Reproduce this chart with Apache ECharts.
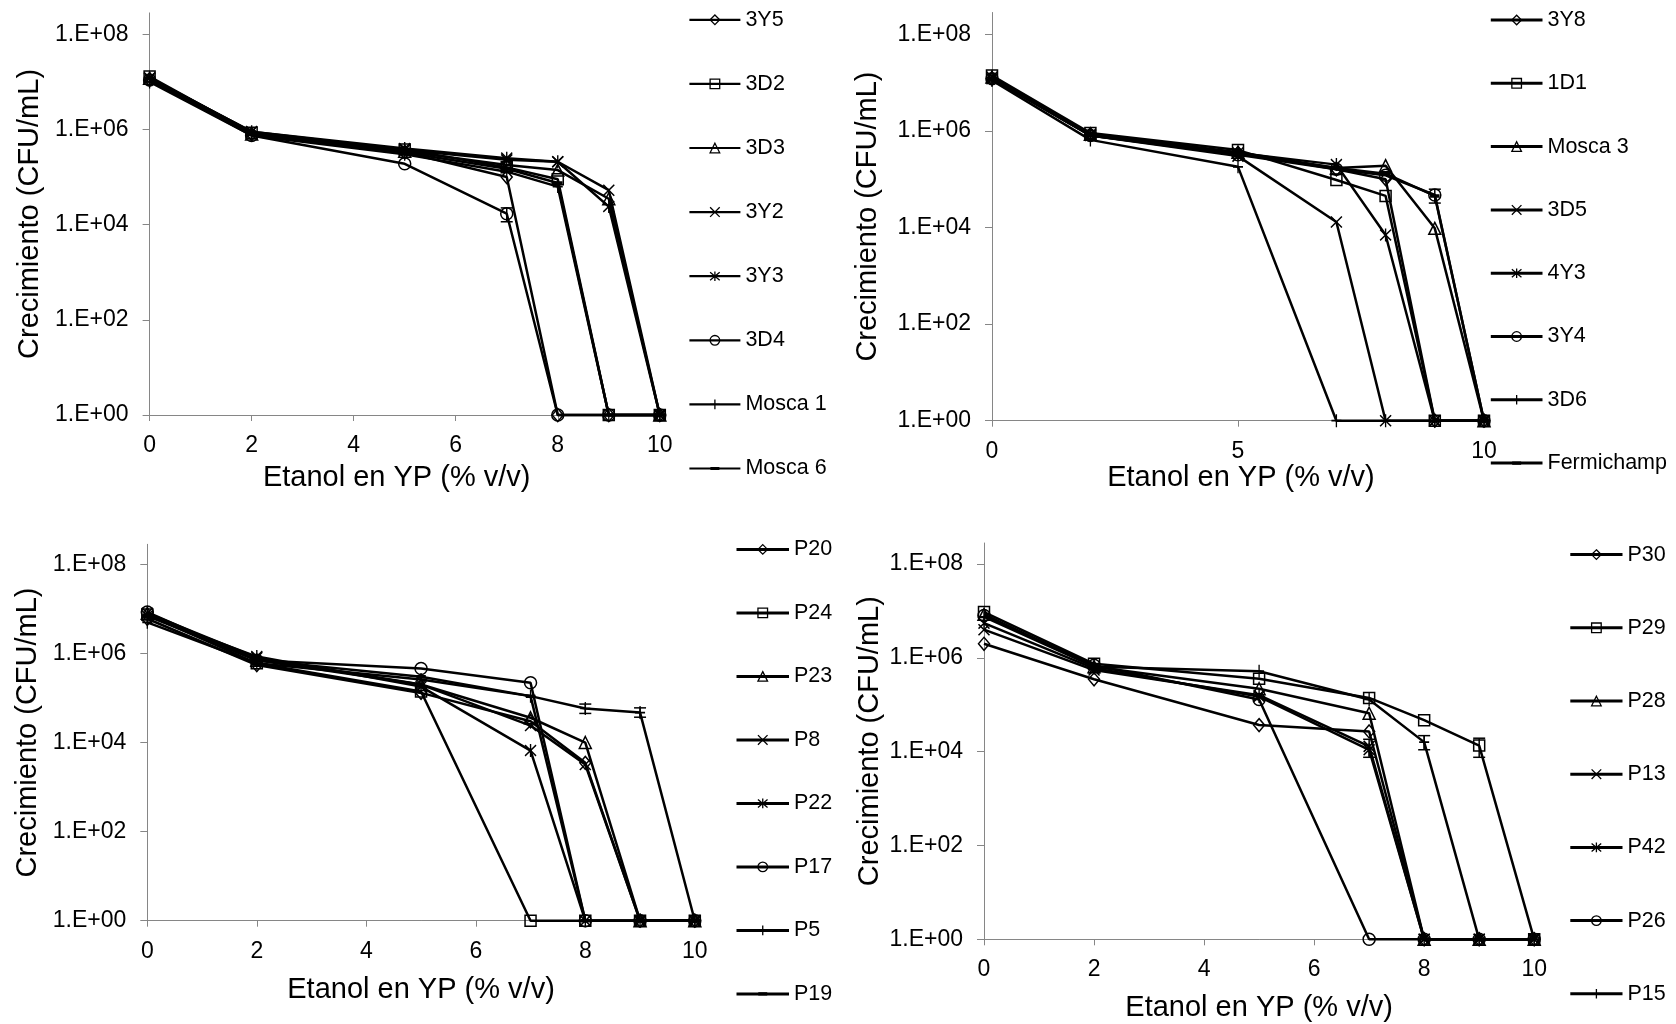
<!DOCTYPE html>
<html>
<head>
<meta charset="utf-8">
<title>Crecimiento en etanol</title>
<script src="https://cdn.jsdelivr.net/npm/echarts@6/dist/echarts.min.js"></script>
<style>
  html, body { margin: 0; padding: 0; background: #ffffff; }
  #chart { width: 1676px; height: 1024px; }
</style>
</head>
<body>
<div id="chart"></div>
<script>
// Ethanol concentrations tested (% v/v) – shared x values for every strain
const ethanol = [0, 2, 5, 7, 8, 9, 10];

// Y-axis tick labels (log scale, every two decades)
const yTickLabels = ['1.E+00', '1.E+02', '1.E+04', '1.E+06', '1.E+08'];

// ---- Panel A strains (CFU/mL) ----
const namesA = ['3Y5', '3D2', '3D3', '3Y2', '3Y3', '3D4', 'Mosca 1', 'Mosca 6'];
const a3Y5    = [1.1e7, 8.0e5, 3.3e5, 1.0e5, 1,     1,     1];
const a3D2    = [1.3e7, 8.5e5, 3.8e5, 1.6e5, 9.0e4, 1,     1];
const a3D3    = [1.2e7, 8.0e5, 3.5e5, 1.8e5, 1.4e5, 3.5e4, 1];
const a3Y2    = [1.2e7, 9.0e5, 3.7e5, 2.3e5, 2.1e5, 5.3e4, 1];
const a3Y3    = [1.2e7, 9.0e5, 4.0e5, 2.5e5, 2.1e5, 2.4e4, 1];
const a3D4    = [1.1e7, 7.5e5, 1.9e5, 1.7e4, 1,     1,     1];
const aMosca1 = [1.0e7, 7.5e5, 3.0e5, 1.3e5, 6.3e4, 1,     1];
const aMosca6 = [1.2e7, 8.0e5, 3.3e5, 1.5e5, 7.5e4, 1,     1];

// ---- Panel B strains ----
const namesB = ['3Y8', '1D1', 'Mosca 3', '3D5', '4Y3', '3Y4', '3D6', 'Fermichamp'];
const b3Y8        = [1.2e7, 8.5e5, 3.5e5, 1.6e5, 1.0e5, 1,     1];
const b1D1        = [1.4e7, 9.0e5, 4.0e5, 9.6e4, 4.5e4, 1,     1];
const bMosca3     = [1.3e7, 8.5e5, 3.6e5, 1.7e5, 1.9e5, 9.6e3, 1];
const b3D5        = [1.2e7, 8.0e5, 3.0e5, 1.3e4, 1,     1,     1];
const b4Y3        = [1.3e7, 8.5e5, 3.5e5, 2.0e5, 7.0e3, 1,     1];
const b3Y4        = [1.2e7, 8.0e5, 3.2e5, 1.6e5, 1.2e5, 4.7e4, 1];
const b3D6        = [1.1e7, 6.5e5, 1.8e5, 1,     1,     1,     1];
const bFermichamp = [1.2e7, 8.0e5, 3.3e5, 1.7e5, 1.3e5, 4.5e4, 1];

// ---- Panel C strains ----
const namesC = ['P20', 'P24', 'P23', 'P8', 'P22', 'P17', 'P5', 'P19'];
const cP20 = [6.0e6, 5.5e5, 1.3e5, 3.0e4, 3.5e3, 1,     1];
const cP24 = [7.5e6, 6.0e5, 1.4e5, 1,     1,     1,     1];
const cP23 = [8.0e6, 7.0e5, 2.0e5, 3.6e4, 1.0e4, 1,     1];
const cP8  = [8.0e6, 8.0e5, 2.0e5, 2.4e4, 3.2e3, 1,     1];
const cP22 = [7.0e6, 8.5e5, 1.8e5, 6.6e3, 1,     1,     1];
const cP17 = [8.5e6, 7.0e5, 4.6e5, 2.2e5, 1,     1,     1];
const cP5  = [5.0e6, 6.0e5, 2.6e5, 1.1e5, 5.8e4, 4.7e4, 1];
const cP19 = [7.0e6, 7.0e5, 3.0e5, 1.1e5, 1,     1,     1];

// ---- Panel D strains ----
const namesD = ['P30', 'P29', 'P28', 'P13', 'P42', 'P26', 'P15'];
const dP30 = [2.0e6, 3.5e5, 3.7e4, 2.7e4, 1,     1,      1];
const dP29 = [9.5e6, 7.5e5, 3.6e5, 1.4e5, 4.7e4, 1.35e4, 1];
const dP28 = [8.5e6, 6.5e5, 2.2e5, 6.6e4, 1,     1,      1];
const dP13 = [4.0e6, 5.5e5, 1.6e5, 1.3e4, 1,     1,      1];
const dP42 = [5.5e6, 6.0e5, 1.5e5, 1.1e4, 1,     1,      1];
const dP26 = [8.0e6, 7.0e5, 1.3e5, 1,     1,     1,      1];
const dP15 = [7.5e6, 6.5e5, 5.2e5, 1.3e5, 1.6e4, 1,      1];

// Error bars that stand out from the markers: [ethanol, lower, upper] (CFU/mL)
const errA = [[7, 1.15e4, 2.25e4]];
const errB = [[9, 3.2e4, 6.2e4]];
const errC = [[8, 4.5e4, 7.3e4], [9, 3.7e4, 6.0e4]];
const errD = [[7, 7.6e3, 1.84e4], [8, 1.1e4, 2.2e4], [9, 7.6e3, 1.94e4]];

const valuesA = [a3Y5, a3D2, a3D3, a3Y2, a3Y3, a3D4, aMosca1, aMosca6];
const valuesB = [b3Y8, b1D1, bMosca3, b3D5, b4Y3, b3Y4, b3D6, bFermichamp];
const valuesC = [cP20, cP24, cP23, cP8, cP22, cP17, cP5, cP19];
const valuesD = [dP30, dP29, dP28, dP13, dP42, dP26, dP15];

// Marker shapes, in legend order: diamond, square, triangle, x, asterisk, circle, plus, dash
const markers = [
  { symbol: 'diamond', size: [11, 13], fill: 'none' },
  { symbol: 'rect', size: 11, fill: 'none' },
  { symbol: 'triangle', size: 12, fill: 'none' },
  { symbol: 'path://M0,0L10,10M0,10L10,0', size: 11, fill: 'none' },
  { symbol: 'path://M0,1L10,11M0,11L10,1M5,0L5,12', size: [11, 13], fill: 'none' },
  { symbol: 'circle', size: 12, fill: 'none' },
  { symbol: 'path://M5,0L5,12M0,6L10,6', size: [10, 13], fill: 'none' },
  { symbol: 'path://M0,0M10,10M1,4L9,4L9,6L1,6Z', size: 10, fill: '#000' }
];

const FONT = '"Liberation Sans", Arial, sans-serif';
const AXIS_GREY = '#868686';
const LOG_TOP = Math.pow(10, 8.45);

function sciLabel(v) {
  const e = Math.log10(v);
  const r = Math.round(e);
  if (Math.abs(e - r) > 1e-6 || r % 2 !== 0) return '';
  const idx = yTickLabels.indexOf('1.E+' + (r < 10 ? '0' : '') + r);
  return idx >= 0 ? yTickLabels[idx] : '';
}

// Vertical error bar with caps, placed through the panel's own axes
function renderErrorBar(params, api) {
  const x = api.value(0);
  const lo = api.coord([x, api.value(1)]);
  const hi = api.coord([x, api.value(2)]);
  const hw = 6;
  const st = { stroke: '#000', lineWidth: 1.5 };
  return {
    type: 'group',
    children: [
      { type: 'line', shape: { x1: lo[0], y1: lo[1], x2: hi[0], y2: hi[1] }, style: st },
      { type: 'line', shape: { x1: lo[0] - hw, y1: lo[1], x2: lo[0] + hw, y2: lo[1] }, style: st },
      { type: 'line', shape: { x1: hi[0] - hw, y1: hi[1], x2: hi[0] + hw, y2: hi[1] }, style: st }
    ]
  };
}

// Panel geometry (pixels) and axis-title offsets
const panels = [
  { names: namesA, values: valuesA, errors: errA, grid: { left: 149.6, top: 12.9, width: 510.2, height: 402.1 },
    xInterval: 2, xNameGap: 48.5, yNameGap: 105, xNamePad: [0, 16, 0, 0],
    legend: { left: 688.3, top: 8.8, itemWidth: 51, itemGap: 42.1, lineWidth: 2.2 } },
  { names: namesB, values: valuesB, errors: errB, grid: { left: 992, top: 12.5, width: 492, height: 408.2 },
    xInterval: 5, xNameGap: 40, yNameGap: 110, xNamePad: [0, 0, 0, 6],
    legend: { left: 1489.3, top: 9.0, itemWidth: 51.7, itemGap: 41.3, lineWidth: 3 } },
  { names: namesC, values: valuesC, errors: errC, grid: { left: 147.3, top: 544.3, width: 547.5, height: 376.4 },
    xInterval: 2, xNameGap: 54.5, yNameGap: 105, xNamePad: [0, 0, 0, 0],
    legend: { left: 735, top: 538.4, itemWidth: 52.5, itemGap: 41.5, lineWidth: 3 } },
  { names: namesD, values: valuesD, errors: errD, grid: { left: 984, top: 543.0, width: 550.2, height: 396.3 },
    xInterval: 2, xNameGap: 54.5, yNameGap: 100, xNamePad: [0, 0, 0, 0],
    legend: { left: 1568.8, top: 543.6, itemWidth: 52.2, itemGap: 51.2, lineWidth: 3 } }
];

const option = {
  animation: false,
  backgroundColor: '#ffffff',
  textStyle: { fontFamily: FONT, color: '#000' },
  grid: [], xAxis: [], yAxis: [], legend: [], series: []
};

panels.forEach(function (p, gi) {
  option.grid.push(Object.assign({ containLabel: false, outerBoundsMode: 'none' }, p.grid));

  option.xAxis.push({
    gridIndex: gi, type: 'value', min: 0, max: 10, interval: p.xInterval,
    name: 'Etanol en YP (% v/v)', nameLocation: 'middle', nameGap: p.xNameGap,
    nameTextStyle: { fontSize: 29, color: '#000', fontFamily: FONT, padding: p.xNamePad },
    axisLine: { onZero: false, lineStyle: { color: AXIS_GREY, width: 1 } },
    axisTick: { show: true, inside: false, length: 6, lineStyle: { color: AXIS_GREY, width: 1 } },
    axisLabel: { fontSize: 23, color: '#000', fontFamily: FONT, margin: 19 },
    splitLine: { show: false }
  });

  option.yAxis.push({
    gridIndex: gi, type: 'log', logBase: 10, min: 1, max: LOG_TOP, interval: 2,
    name: 'Crecimiento (CFU/mL)', nameLocation: 'middle', nameGap: p.yNameGap,
    nameTextStyle: { fontSize: 29, color: '#000', fontFamily: FONT },
    axisLine: { show: true, onZero: false, lineStyle: { color: AXIS_GREY, width: 1 } },
    axisTick: { show: true, inside: false, length: 7, lineStyle: { color: AXIS_GREY, width: 1 } },
    axisLabel: { fontSize: 23, color: '#000', fontFamily: FONT, margin: 21, formatter: sciLabel, showMaxLabel: false },
    splitLine: { show: false }, minorTick: { show: false }, minorSplitLine: { show: false }
  });

  option.legend.push({
    data: p.names, orient: 'vertical', left: p.legend.left, top: p.legend.top,
    itemWidth: p.legend.itemWidth, itemHeight: 12, itemGap: p.legend.itemGap,
    padding: 0, selectedMode: false,
    textStyle: { fontSize: 21.5, color: '#000', fontFamily: FONT },
    lineStyle: { width: p.legend.lineWidth, color: '#000' },
    itemStyle: { borderWidth: 1.3, borderColor: '#000' }
  });

  p.names.forEach(function (name, si) {
    const m = markers[si];
    const vals = p.values[si];
    option.series.push({
      name: name, type: 'line', xAxisIndex: gi, yAxisIndex: gi,
      data: ethanol.map(function (x, i) { return [x, vals[i]]; }),
      symbol: m.symbol, symbolSize: m.size, showSymbol: true, clip: false,
      lineStyle: { color: '#000', width: 2.5 },
      itemStyle: { color: m.fill, borderColor: '#000', borderWidth: 1.5 },
      emphasis: { disabled: true }, silent: true
    });
  });

  option.series.push({
    type: 'custom', xAxisIndex: gi, yAxisIndex: gi,
    data: p.errors, renderItem: renderErrorBar,
    encode: { x: 0, y: [1, 2] }, clip: false, silent: true, z: 3
  });
});

const chart = echarts.init(document.getElementById('chart'), null, { renderer: 'canvas' });
chart.setOption(option);
</script>
</body>
</html>
